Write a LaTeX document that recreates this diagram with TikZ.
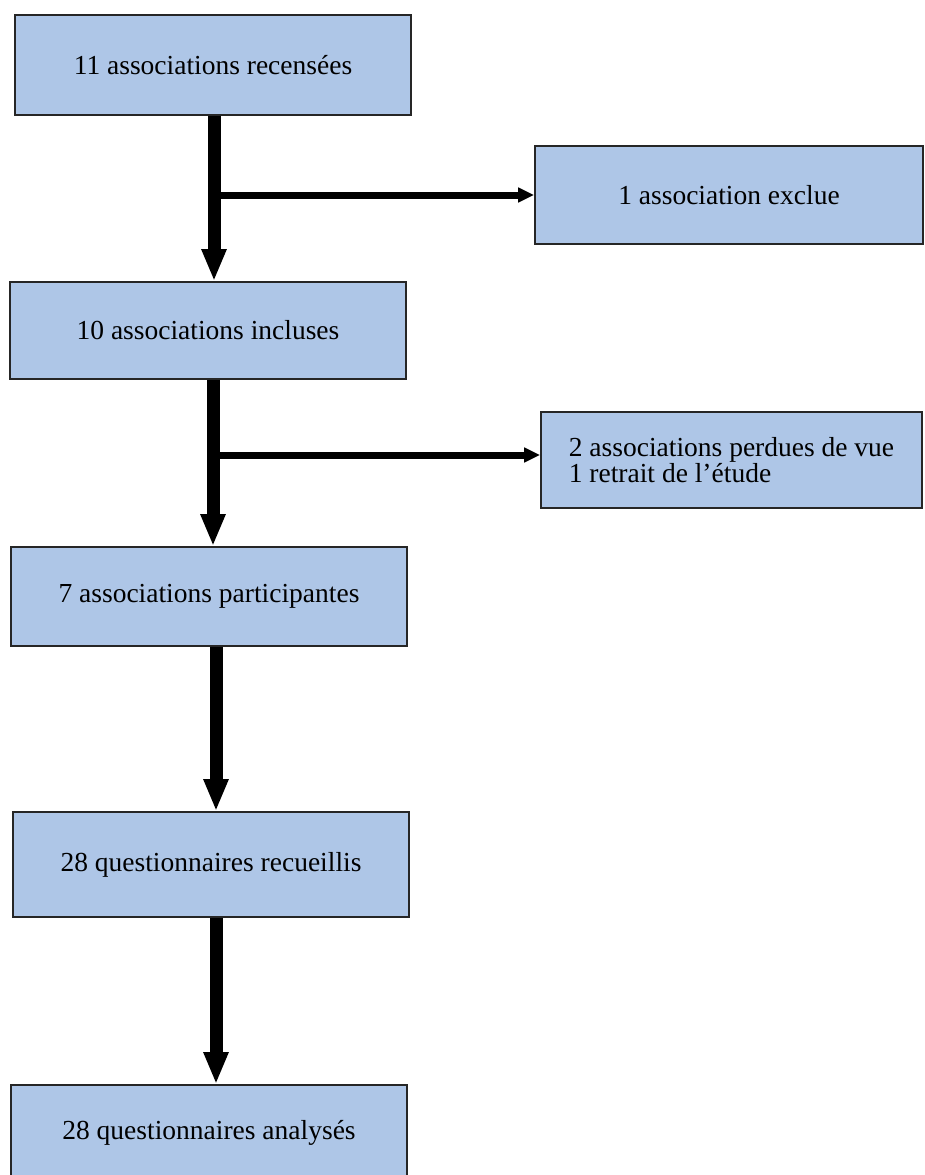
\documentclass[tikz,border=0pt]{standalone}
\usepackage{fontspec}
\setmainfont{Liberation Serif}
\usetikzlibrary{arrows.meta}
\definecolor{boxfill}{RGB}{174,198,231}
\definecolor{boxline}{RGB}{38,38,38}
\tikzset{
  flowbox/.style={draw=boxline, line width=1.6pt, fill=boxfill, rectangle,
    minimum width=396pt, inner sep=0pt, font=\fontsize{27.5}{23}\selectfont},
  sidebox/.style={flowbox},
  bigarrow/.style={line width=13pt, -{Triangle[width=23pt,length=32pt]}},
  sidearrow/.style={line width=7pt, -{Triangle[width=14pt,length=16pt]}}
}
\begin{document}
\begin{tikzpicture}[x=1pt,y=-1pt]
\useasboundingbox (0,0) rectangle (924,1175);
\clip (0,0) rectangle (924,1175);
\node[flowbox, minimum height=100pt] (b1) at (213,65) {11 associations recensées};
\node[flowbox, minimum height=97pt] (b2) at (208,330.5) {10 associations incluses};
\node[flowbox, minimum height=99pt] (b3) at (209,596.5) {7 associations participantes};
\node[flowbox, minimum height=105pt] (b4) at (211,864.5) {28 questionnaires recueillis};
\node[flowbox, minimum height=96pt] (b5) at (209,1133) {28 questionnaires analysés};
\node[sidebox, minimum width=388pt, minimum height=98pt] (ex) at (729,195) {1 association exclue};
\node[sidebox, minimum width=381pt, minimum height=96pt, align=left] (pv) at (731.5,460) {2 associations perdues de vue\\1 retrait de l’étude};
\coordinate (s1) at (214,195);
\coordinate (s2) at (213,455);
\coordinate (s3) at (216,0);
\coordinate (s4) at (216,0);
\draw[bigarrow] (b1.south -| s1) -- (b2.north -| s1);
\draw[sidearrow] (s1) -- (s1 -| ex.west);
\draw[bigarrow] (b2.south -| s2) -- (b3.north -| s2);
\draw[sidearrow] (s2) -- (s2 -| pv.west);
\draw[bigarrow] (b3.south -| s3) -- (b4.north -| s3);
\draw[bigarrow] (b4.south -| s4) -- (b5.north -| s4);
\end{tikzpicture}
\end{document}
